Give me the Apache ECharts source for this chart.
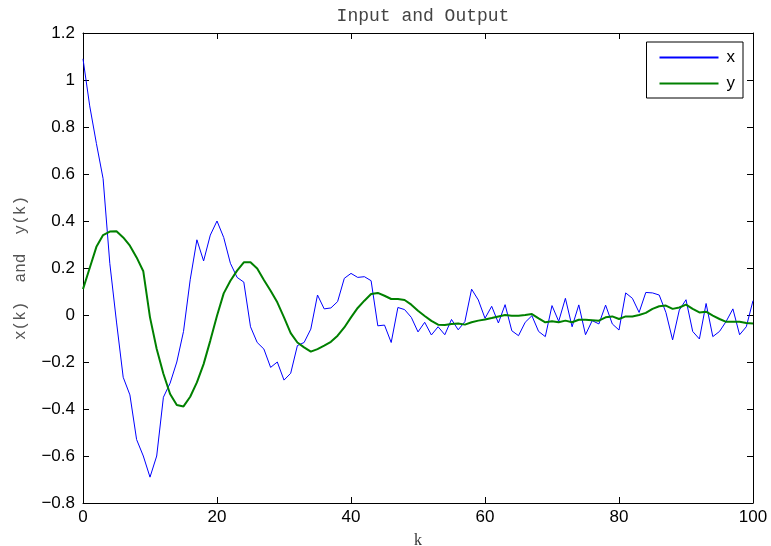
<!DOCTYPE html>
<html>
<head>
<meta charset="utf-8">
<script src="https://cdn.jsdelivr.net/npm/echarts@6/dist/echarts.min.js"></script>
<style>
  html, body { margin: 0; padding: 0; background: #fff; }
  #chart { width: 771px; height: 546px; }
</style>
</head>
<body>
<div id="chart"></div>
<script>
// Sample index k = 0..100
const kValues = Array.from({ length: 101 }, (_, i) => i);

// Input sequence x(k)
const xSeries = [
  1.09, 0.89, 0.73, 0.58, 0.22, -0.03, -0.265, -0.34, -0.53, -0.60,
  -0.69, -0.60, -0.35, -0.29, -0.20, -0.07, 0.15, 0.32, 0.23, 0.34,
  0.40, 0.33, 0.22, 0.16, 0.14, -0.05, -0.117, -0.145, -0.223, -0.20,
  -0.277, -0.248, -0.13, -0.117, -0.06, 0.085, 0.026, 0.03, 0.057, 0.156,
  0.177, 0.16, 0.163, 0.146, -0.046, -0.043, -0.117, 0.032, 0.023, -0.01,
  -0.072, -0.031, -0.085, -0.05, -0.084, -0.019, -0.063, -0.028, 0.11, 0.064,
  -0.014, 0.037, -0.034, 0.044, -0.067, -0.088, -0.031, -0.003, -0.07, -0.092,
  0.04, -0.027, 0.071, -0.05, 0.043, -0.084, -0.024, -0.038, 0.042, -0.038,
  -0.064, 0.094, 0.071, 0.011, 0.096, 0.094, 0.085, 0.011, -0.106, 0.021,
  0.065, -0.07, -0.102, 0.049, -0.092, -0.07, -0.027, 0.026, -0.084, -0.05,
  0.061
];

// Output sequence y(k)
const ySeries = [
  0.11, 0.20, 0.29, 0.34, 0.355, 0.356, 0.33, 0.295, 0.245, 0.186,
  -0.01, -0.145, -0.25, -0.336, -0.383, -0.389, -0.348, -0.287, -0.209, -0.109,
  -0.003, 0.092, 0.146, 0.189, 0.224, 0.224, 0.198, 0.149, 0.103, 0.054,
  -0.01, -0.077, -0.117, -0.138, -0.156, -0.145, -0.13, -0.114, -0.088, -0.053,
  -0.01, 0.03, 0.061, 0.089, 0.094, 0.082, 0.068, 0.068, 0.064, 0.044,
  0.018, -0.004, -0.025, -0.041, -0.043, -0.038, -0.036, -0.041, -0.031, -0.024,
  -0.019, -0.013, -0.006, 0.0, -0.003, -0.003, 0.0, 0.004, -0.014, -0.031,
  -0.027, -0.031, -0.024, -0.031, -0.02, -0.02, -0.022, -0.024, -0.01, -0.006,
  -0.017, -0.006, -0.006, 0.0, 0.009, 0.026, 0.037, 0.04, 0.026, 0.032,
  0.044, 0.026, 0.011, 0.014, -0.003, -0.017, -0.029, -0.029, -0.029, -0.034,
  -0.036
];

// Axis ranges and tick steps
const xRange = [0, 100];
const xStep = 20;
const yRange = [-0.8, 1.2];
const yStep = 0.2;

const chartTitle = 'Input and Output';
const xName = 'k';
const yName = 'x(k)  and  y(k)';
const seriesNames = ['x', 'y'];

const pairs = (vals) => kValues.map((k, i) => [k, vals[i]]);

const fmtY = (v) => {
  const r = Math.round(v * 10) / 10;
  return String(r).replace('-', '\u2212');
};

const tickStyle = { show: true, inside: true, length: 6, lineStyle: { color: '#000', width: 1 } };
const lineStyle = { show: true, onZero: false, lineStyle: { color: '#000', width: 1 } };
const labelFont = { fontFamily: 'Liberation Sans', fontSize: 17, color: '#000' };

const chart = echarts.init(document.getElementById('chart'), null, { renderer: 'canvas' });
chart.setOption({
  backgroundColor: '#fff',
  animation: false,
  title: {
    text: chartTitle,
    left: 418,
    textAlign: 'center',
    top: 2,
    textStyle: { fontFamily: 'Liberation Mono', fontSize: 18, fontWeight: 'normal', color: '#444' }
  },
  legend: {
    right: 28,
    top: 42,
    orient: 'vertical',
    itemWidth: 59,
    itemHeight: 14,
    itemGap: 9,
    padding: [7, 8, 6, 12],
    borderColor: '#000',
    borderWidth: 1,
    backgroundColor: '#fff',
    itemStyle: { opacity: 0 },
    textStyle: { fontFamily: 'Liberation Sans', fontSize: 17, lineHeight: 14, color: '#000', padding: [0, 0, 0, 3] },
    data: seriesNames
  },
  grid: { left: 83, right: 18, top: 33, bottom: 43, containLabel: false, outerBoundsMode: 'none' },
  xAxis: [
    {
      type: 'value', min: xRange[0], max: xRange[1], interval: xStep, position: 'bottom',
      axisLine: lineStyle, axisTick: tickStyle, splitLine: { show: false },
      axisLabel: Object.assign({ margin: 6 }, labelFont),
      name: xName, nameLocation: 'middle', nameGap: 30,
      nameTextStyle: { fontFamily: 'Liberation Serif', fontSize: 16, color: '#333' }
    },
    {
      type: 'value', min: xRange[0], max: xRange[1], interval: xStep, position: 'top',
      axisLine: lineStyle, axisTick: tickStyle, splitLine: { show: false },
      axisLabel: { show: false }
    }
  ],
  yAxis: [
    {
      type: 'value', min: yRange[0], max: yRange[1], interval: yStep, position: 'left',
      axisLine: lineStyle, axisTick: tickStyle, splitLine: { show: false },
      axisLabel: Object.assign({ margin: 8, formatter: fmtY }, labelFont),
      name: yName, nameLocation: 'middle', nameGap: 54, nameRotate: 90,
      nameTextStyle: { fontFamily: 'Liberation Mono', fontSize: 16, color: '#555' }
    },
    {
      type: 'value', min: yRange[0], max: yRange[1], interval: yStep, position: 'right',
      axisLine: lineStyle, axisTick: tickStyle, splitLine: { show: false },
      axisLabel: { show: false }
    }
  ],
  series: [
    {
      name: seriesNames[0], type: 'line', data: pairs(xSeries),
      xAxisIndex: 0, yAxisIndex: 0, symbol: 'none',
      lineStyle: { color: '#0000ff', width: 1 }, itemStyle: { color: '#0000ff' }, z: 2
    },
    {
      name: seriesNames[1], type: 'line', data: pairs(ySeries),
      xAxisIndex: 0, yAxisIndex: 0, symbol: 'none',
      lineStyle: { color: '#008000', width: 2 }, itemStyle: { color: '#008000' }, z: 3
    }
  ]
});
</script>
</body>
</html>
